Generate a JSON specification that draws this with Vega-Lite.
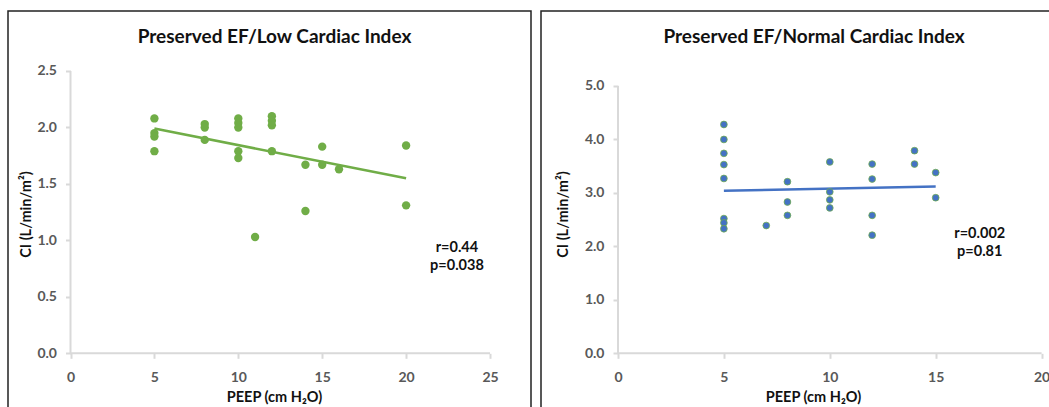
{
  "$schema": "https://vega.github.io/schema/vega-lite/v6.json",
  "padding": {"left": 7, "top": 10, "right": 0, "bottom": 0},
  "spacing": 8,
  "config": {
    "concat": {"spacing": 8},
    "axis": {"grid": false, "domain": false, "tickColor": "#D9D9D9", "tickWidth": 2, "tickSize": 5,
      "labelColor": "#595959", "labelFont": "Lato", "labelFontWeight": "bold", "labelFontSize": 14,
      "titleFont": "Lato", "titleFontSize": 14.5, "titleFontWeight": "bold", "titleColor": "#111111"},
    "title": {"font": "Lato", "fontSize": 19, "fontWeight": "bold", "color": "#111111"},
    "text": {"font": "Lato"}
  },
  "hconcat": [
    {
      "width": 523, "height": 397,
      "view": {"stroke": "#222222", "strokeWidth": 1.5, "strokeDash": [920, 523, 397]},
      "title": {"text": "Preserved EF/Low Cardiac Index", "anchor": "middle", "offset": -45, "dx": 5, "baseline": "middle"},
      "layer": [
        {
          "data": {"values": [
            {"x0": 0, "x1": 25, "y0": 0, "y1": 0},
            {"x0": 0, "x1": 0, "y0": 0, "y1": 2.5}
          ]},
          "mark": {"type": "rule", "color": "#D9D9D9", "strokeWidth": 2},
          "encoding": {
            "x": {"field": "x0", "type": "quantitative", "scale": {"domain": [-3.725, 27.443], "nice": false, "zero": false},
              "axis": {"values": [0, 5, 10, 15, 20, 25], "offset": -54.7, "labelPadding": 12, "title": "PEEP (cm H₂O)", "titleX": 266, "titleY": 43.7, "titleBaseline": "middle"}},
            "x2": {"field": "x1"},
            "y": {"field": "y0", "type": "quantitative", "scale": {"domain": [-0.4844, 3.0313], "nice": false, "zero": false},
              "axis": {"values": [0, 0.5, 1, 1.5, 2, 2.5], "format": ".1f", "offset": -62.5, "labelPadding": 9, "title": "CI (L/min/m²)", "titleX": -44.5, "titleY": 203, "titleBaseline": "middle", "titleAngle": -90}},
            "y2": {"field": "y1"}
          }
        },
        {
          "data": {"values": [
            {"peep": 5, "ci": 1.99}, {"peep": 20, "ci": 1.55}
          ]},
          "mark": {"type": "line", "color": "#70AD47", "strokeWidth": 2.5},
          "encoding": {
            "x": {"field": "peep", "type": "quantitative"},
            "y": {"field": "ci", "type": "quantitative"}
          }
        },
        {
          "data": {"values": [
            {"peep": 5, "ci": 2.08}, {"peep": 5, "ci": 1.95}, {"peep": 5, "ci": 1.92}, {"peep": 5, "ci": 1.79},
            {"peep": 8, "ci": 2.03}, {"peep": 8, "ci": 2.0}, {"peep": 8, "ci": 1.89},
            {"peep": 10, "ci": 2.08}, {"peep": 10, "ci": 2.04}, {"peep": 10, "ci": 2.0}, {"peep": 10, "ci": 1.79}, {"peep": 10, "ci": 1.73},
            {"peep": 11, "ci": 1.03},
            {"peep": 12, "ci": 2.1}, {"peep": 12, "ci": 2.06}, {"peep": 12, "ci": 2.02}, {"peep": 12, "ci": 1.79},
            {"peep": 14, "ci": 1.67}, {"peep": 14, "ci": 1.26},
            {"peep": 15, "ci": 1.83}, {"peep": 15, "ci": 1.67},
            {"peep": 16, "ci": 1.63},
            {"peep": 20, "ci": 1.84}, {"peep": 20, "ci": 1.31}
          ]},
          "mark": {"type": "circle", "color": "#70AD47", "opacity": 1, "size": 70},
          "encoding": {
            "x": {"field": "peep", "type": "quantitative"},
            "y": {"field": "ci", "type": "quantitative"}
          }
        },
        {
          "data": {"values": [
            {"px": 23.03, "py": 0.933, "label": "r=0.44"},
            {"px": 23.03, "py": 0.773, "label": "p=0.038"}
          ]},
          "mark": {"type": "text", "fontSize": 14.5, "fontWeight": "bold", "color": "#111111", "align": "center", "baseline": "middle"},
          "encoding": {
            "x": {"field": "px", "type": "quantitative"},
            "y": {"field": "py", "type": "quantitative"},
            "text": {"field": "label"}
          }
        }
      ]
    },
    {
      "width": 511, "height": 397,
      "view": {"stroke": "#222222", "strokeWidth": 1.5, "strokeDash": [511, 908, 397]},
      "title": {"text": "Preserved EF/Normal Cardiac Index", "anchor": "middle", "offset": -45, "dx": 17.5, "baseline": "middle"},
      "layer": [
        {
          "data": {"values": [
            {"x0": 0, "x1": 20, "y0": 0, "y1": 0},
            {"x0": 0, "x1": 0, "y0": 0, "y1": 5}
          ]},
          "mark": {"type": "rule", "color": "#D9D9D9", "strokeWidth": 2},
          "encoding": {
            "x": {"field": "x0", "type": "quantitative", "scale": {"domain": [-3.635, 20.491], "nice": false, "zero": false},
              "axis": {"values": [0, 5, 10, 15, 20], "offset": -54.7, "labelPadding": 12, "title": "PEEP (cm H₂O)", "titleX": 272, "titleY": 43.7, "titleBaseline": "middle"}},
            "x2": {"field": "x1"},
            "y": {"field": "y0", "type": "quantitative", "scale": {"domain": [-1.023, 6.4027], "nice": false, "zero": false},
              "axis": {"values": [0, 1, 2, 3, 4, 5], "format": ".1f", "offset": -77, "labelPadding": 9, "title": "CI (L/min/m²)", "titleX": -55, "titleY": 203, "titleBaseline": "middle", "titleAngle": -90}},
            "y2": {"field": "y1"}
          }
        },
        {
          "data": {"values": [
            {"peep": 5, "ci": 3.04}, {"peep": 15, "ci": 3.12}
          ]},
          "mark": {"type": "line", "color": "#4472C4", "strokeWidth": 2.5},
          "encoding": {
            "x": {"field": "peep", "type": "quantitative"},
            "y": {"field": "ci", "type": "quantitative"}
          }
        },
        {
          "data": {"values": [
            {"peep": 5, "ci": 4.28}, {"peep": 5, "ci": 4.0}, {"peep": 5, "ci": 3.74}, {"peep": 5, "ci": 3.53}, {"peep": 5, "ci": 3.27}, {"peep": 5, "ci": 2.52}, {"peep": 5, "ci": 2.44}, {"peep": 5, "ci": 2.33},
            {"peep": 7, "ci": 2.39},
            {"peep": 8, "ci": 3.21}, {"peep": 8, "ci": 2.83}, {"peep": 8, "ci": 2.58},
            {"peep": 10, "ci": 3.58}, {"peep": 10, "ci": 3.02}, {"peep": 10, "ci": 2.87}, {"peep": 10, "ci": 2.72},
            {"peep": 12, "ci": 3.54}, {"peep": 12, "ci": 3.26}, {"peep": 12, "ci": 2.58}, {"peep": 12, "ci": 2.21},
            {"peep": 14, "ci": 3.79}, {"peep": 14, "ci": 3.54},
            {"peep": 15, "ci": 3.38}, {"peep": 15, "ci": 2.91}
          ]},
          "mark": {"type": "circle", "fill": "#4472C4", "stroke": "#70AD47", "strokeWidth": 0.75, "opacity": 1, "size": 46},
          "encoding": {
            "x": {"field": "peep", "type": "quantitative"},
            "y": {"field": "ci", "type": "quantitative"}
          }
        },
        {
          "data": {"values": [
            {"px": 17.08, "py": 2.237, "label": "r=0.002"},
            {"px": 17.08, "py": 1.9, "label": "p=0.81"}
          ]},
          "mark": {"type": "text", "fontSize": 14.5, "fontWeight": "bold", "color": "#111111", "align": "center", "baseline": "middle"},
          "encoding": {
            "x": {"field": "px", "type": "quantitative"},
            "y": {"field": "py", "type": "quantitative"},
            "text": {"field": "label"}
          }
        }
      ]
    }
  ]
}
